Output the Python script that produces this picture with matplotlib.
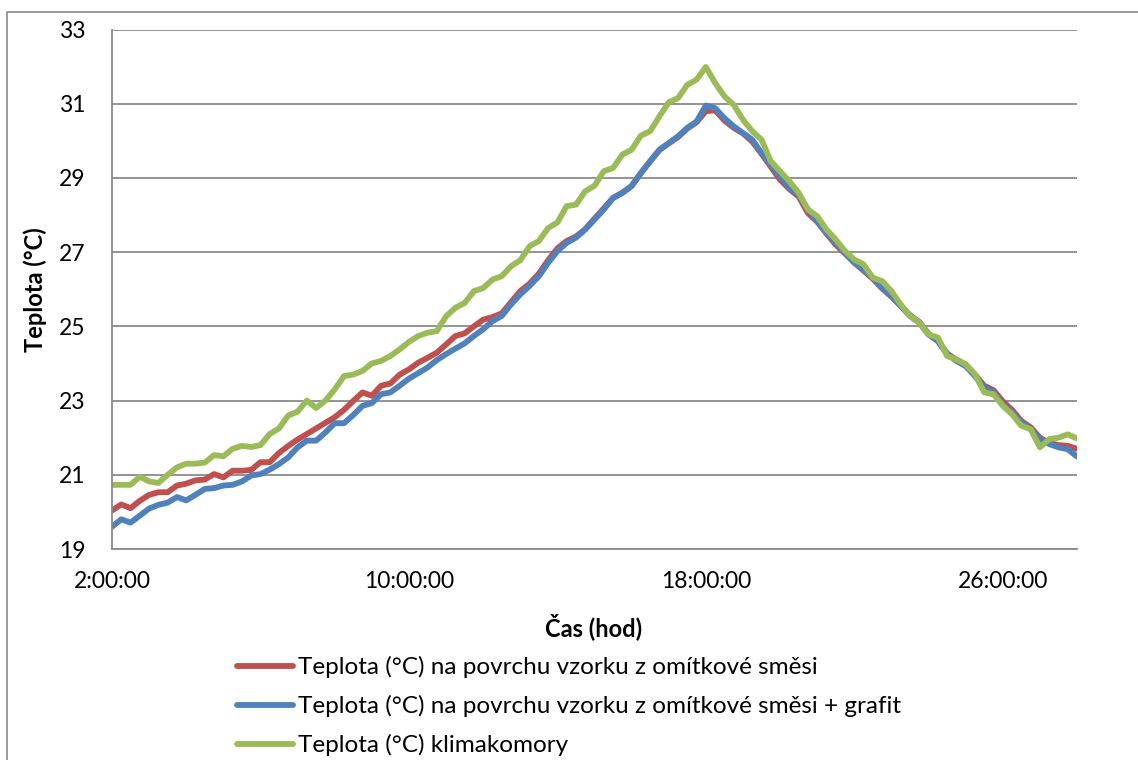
import numpy as np
import matplotlib
matplotlib.use('Agg')
import matplotlib.pyplot as plt
from matplotlib.patches import Rectangle

plt.rcParams['font.family'] = ['Lato', 'DejaVu Sans']

# time in hours, one reading every 15 min (2:00 .. 28:00)
hours = np.arange(2.0, 28.01, 0.25)

temp_omitka = [
    20.04, 20.2, 20.1, 20.3, 20.46, 20.53, 20.53, 20.71, 20.76, 20.85, 20.87, 21.02, 20.93,
    21.11, 21.11, 21.13, 21.34, 21.34, 21.59, 21.78, 21.95, 22.1, 22.25, 22.4, 22.55, 22.75,
    22.99, 23.22, 23.13, 23.4, 23.46, 23.7, 23.84, 24.02, 24.15, 24.29, 24.51, 24.74, 24.81,
    25.0, 25.18,
    25.25, 25.35, 25.65, 25.95, 26.15, 26.42, 26.78, 27.1, 27.3, 27.42, 27.62, 27.9, 28.18,
    28.46, 28.6, 28.78, 29.13, 29.45, 29.75, 29.93, 30.1, 30.33, 30.5, 30.8, 30.82, 30.55,
    30.35, 30.2, 29.98, 29.65, 29.3, 28.95, 28.7, 28.5, 28.05, 27.82, 27.5, 27.2, 26.96,
    26.72, 26.5, 26.28, 26.02, 25.8, 25.55, 25.3, 25.12, 24.8, 24.62, 24.27, 24.1, 23.97,
    23.7, 23.4, 23.28, 22.98, 22.75, 22.45, 22.28, 22.0, 21.86, 21.8, 21.78, 21.7,
]

temp_grafit = [
    19.6, 19.8, 19.71, 19.9, 20.09, 20.19, 20.25, 20.4, 20.31, 20.46, 20.62, 20.64, 20.71,
    20.73, 20.82, 20.98, 21.02, 21.14, 21.29, 21.47, 21.74, 21.92, 21.92, 22.14, 22.39, 22.39,
    22.61, 22.86, 22.93, 23.17, 23.22, 23.4, 23.59, 23.74, 23.89, 24.09, 24.25, 24.4, 24.54,
    24.74, 24.92,
    25.14, 25.28, 25.59, 25.86, 26.09, 26.35, 26.71, 27.03, 27.25, 27.39, 27.61, 27.88, 28.15,
    28.46, 28.6, 28.78, 29.13, 29.45, 29.76, 29.94, 30.12, 30.35, 30.52, 30.95, 30.88, 30.61,
    30.39, 30.21, 30.03, 29.67, 29.36, 29.04, 28.73, 28.55, 28.15, 27.83, 27.52, 27.25, 26.98,
    26.71, 26.53, 26.31, 26.04, 25.82, 25.55, 25.28, 25.1, 24.78, 24.6, 24.25, 24.07, 23.93,
    23.66, 23.35, 23.22, 22.9, 22.68, 22.41, 22.23, 21.96, 21.83, 21.74, 21.69, 21.49,
]

temp_komora = [
    20.73, 20.73, 20.73, 20.95, 20.82, 20.78, 21.0, 21.2, 21.3, 21.3, 21.33, 21.53, 21.5,
    21.7, 21.78, 21.75, 21.8, 22.1, 22.25, 22.6, 22.7, 23.0, 22.8, 23.0, 23.3, 23.66,
    23.7, 23.8, 24.0, 24.07, 24.2, 24.38, 24.58, 24.74, 24.83, 24.87, 25.27, 25.5, 25.63,
    25.95, 26.03,
    26.26, 26.35, 26.62, 26.78, 27.16, 27.3, 27.65, 27.8, 28.24, 28.28, 28.64, 28.79, 29.18,
    29.27, 29.63, 29.76, 30.14, 30.26, 30.66, 31.04, 31.15, 31.51, 31.65, 31.99, 31.56, 31.2,
    30.97, 30.57, 30.26, 30.03, 29.45, 29.18, 28.91, 28.6, 28.15, 27.97, 27.61, 27.34, 27.03,
    26.8, 26.67, 26.31, 26.22, 25.95, 25.59, 25.28, 25.1, 24.78, 24.7, 24.2, 24.11, 23.98,
    23.71, 23.22, 23.17, 22.86, 22.63, 22.32, 22.23, 21.74, 21.96, 22.0, 22.09, 21.98,
]

x_ticks = [2, 10, 18, 26]
x_tick_labels = ['2:00:00', '10:00:00', '18:00:00', '26:00:00']
y_ticks = [19, 21, 23, 25, 27, 29, 31, 33]

labels = [
    'Teplota (°C) na povrchu vzorku z omítkové směsi',
    'Teplota (°C) na povrchu vzorku z omítkové směsi + grafit',
    'Teplota (°C) klimakomory',
]
colors = ['#C0504D', '#4F81BD', '#9BBB59']

fig = plt.figure(figsize=(11.38, 7.6), dpi=100)
ax = fig.add_axes([112 / 1138, 1 - 549 / 760, 965 / 1138, 519.5 / 760])

# outer chart border (runs off the right and bottom edge)
fig.patches.append(Rectangle((7 / 1138, -0.1), 1.2, 1 - 12 / 760 + 0.1,
                             transform=fig.transFigure, fill=False,
                             edgecolor='#8a8a8a', linewidth=1.2))

for series, lab, col in zip([temp_omitka, temp_grafit, temp_komora], labels, colors):
    ax.plot(hours, series, color=col, linewidth=4.2, label=lab,
            solid_joinstyle='round', solid_capstyle='round')

ax.set_xlim(2, 28)
ax.set_ylim(19, 33)
ax.set_yticks(y_ticks)
ax.set_xticks(x_ticks)
ax.set_xticklabels(x_tick_labels)
ax.tick_params(axis='both', length=0, labelsize=16.5, colors='black')
ax.tick_params(axis='y', pad=19)
ax.tick_params(axis='x', pad=16)

ax.grid(True, axis='y', color='#8a8a8a', linewidth=1.3)
ax.set_axisbelow(True)
for s in ['top', 'right']:
    ax.spines[s].set_visible(False)
for s in ['left', 'bottom']:
    ax.spines[s].set_color('#8a8a8a')
    ax.spines[s].set_linewidth(1.3)

# axis titles
fig.text(35 / 1138, 1 - 290 / 760, 'Teplota (°C)', rotation=90, fontsize=17,
         fontweight='bold', ha='center', va='center')
fig.text(594 / 1138, 1 - 627 / 760, 'Čas (hod)', fontsize=17,
         fontweight='bold', ha='center', va='center')

leg = fig.legend(loc='upper left', bbox_to_anchor=(237 / 1138, 1 - 656 / 760),
                 frameon=False, fontsize=17.5, handlelength=2.3, handletextpad=0.2,
                 labelspacing=0.7, borderpad=0, borderaxespad=0)
for line in leg.get_lines():
    line.set_linewidth(4.2)

fig.savefig('out.png', dpi=100)
